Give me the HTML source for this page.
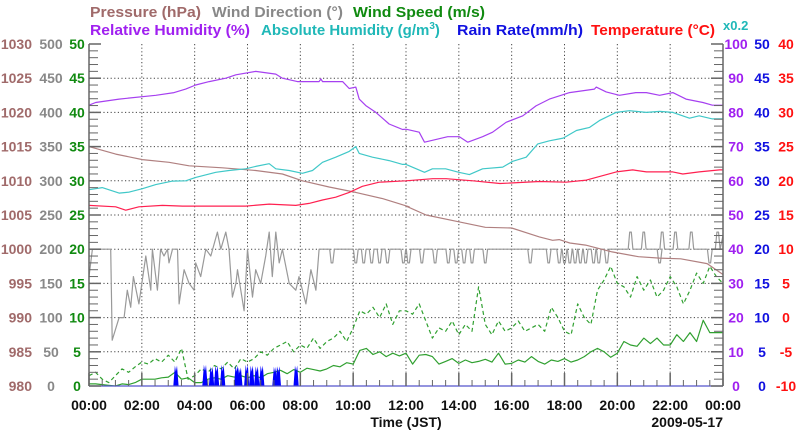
<!DOCTYPE html>
<html><head><meta charset="utf-8"><style>
html,body{margin:0;padding:0;background:#fff;}
svg{display:block;font-family:"Liberation Sans",sans-serif;font-weight:bold;}
</style></head><body>
<svg id="chart" width="800" height="434" viewBox="0 0 800 434" xmlns="http://www.w3.org/2000/svg">
<g font-size="15">
<text x="90" y="17" fill="#a06a6a" textLength="111" lengthAdjust="spacingAndGlyphs">Pressure (hPa)</text>
<text x="212" y="17" fill="#888888" textLength="131" lengthAdjust="spacingAndGlyphs">Wind Direction (°)</text>
<text x="353" y="17" fill="#108a10" textLength="132" lengthAdjust="spacingAndGlyphs">Wind Speed (m/s)</text>
<text x="90" y="35" fill="#a020f0" textLength="160" lengthAdjust="spacingAndGlyphs">Relative Humidity (%)</text>
<text x="261" y="35" fill="#20b8b8">Absolute Humidity (g/m<tspan font-size="10" dy="-6">3</tspan><tspan dy="6">)</tspan></text>
<text x="457" y="35" fill="#1010e0" textLength="126" lengthAdjust="spacingAndGlyphs">Rain Rate(mm/h)</text>
<text x="591" y="35" fill="#ff1010" textLength="124" lengthAdjust="spacingAndGlyphs">Temperature (°C)</text>
<text x="723" y="30" fill="#20b8b8" font-size="13">x0.2</text>
</g>
<g id="grid"></g>
<g id="series"></g>
<g id="axes"></g>
<g id="labels" font-size="14"></g>
</svg>
<script>
const pressTimes=[0,1.01,2.02,3.03,3.79,5.05,6.31,7.32,8.08,9.09,10.1,11.11,12.12,12.0,12.76,14.0,15.0,16.0,16.8,17.05,17.55,17.8,18.2,18.8,19.8,20.8,21.6,22.4,23.4,24];
const pressValues=[1015,1013.9,1013.1,1012.7,1012.2,1011.9,1011.5,1011.0,1010.0,1009.1,1008.3,1007.4,1006.2,1006.3,1005.0,1004.0,1003.2,1003.1,1002.1,1001.8,1001.3,1001.4,1000.9,1000.6,999.6,998.9,998.7,998.6,997.9,996.3];
const rhTimes=[0,0.25,1.14,2.53,3.22,3.66,4.04,4.55,5.18,5.56,6.31,7.07,7.32,7.89,8.71,8.78,8.84,9.6,9.85,10.1,10.23,10.48,10.86,11.36,11.87,12.0,12.5,12.7,13.58,14.02,14.34,14.9,15.28,15.79,16.42,16.92,17.43,17.87,18.19,19.13,19.2,19.58,20.08,20.7,21.1,21.6,22.1,22.6,23.24,23.6,24];
const rhValues=[82.1,82.9,83.9,85,85.8,86.8,88,89,90,91,92,91.2,90,89,89,89.8,89,89,87,87.4,83.9,82,80,76.6,75,75.1,74.2,71.3,72.9,72.9,71.3,72.9,74.2,77.1,79,81.9,83.9,85,85.8,86.8,87.4,86,85,85.8,85.8,85,85.8,83.9,82.9,82.1,82.1];
const ahTimes=[0,0.5,1.14,1.52,2.02,2.53,3.16,3.66,4.04,4.8,5.3,5.93,6.31,6.82,7.07,7.58,8.08,8.46,8.84,9.34,9.85,10.1,10.23,10.73,11.36,11.87,12.0,12.7,13.0,13.5,14.0,14.4,14.9,15.66,16.04,16.55,16.99,17.43,17.95,18.45,18.95,19.32,19.95,20.46,21.1,21.6,22.1,22.73,23.1,23.6,24];
const ahValues=[11.48,11.6,11.28,11.34,11.54,11.78,11.98,12.0,12.2,12.5,12.6,12.7,12.84,13.0,12.7,12.6,12.44,12.6,13.08,13.38,13.72,14.0,13.6,13.38,13.18,12.96,12.96,12.5,12.7,12.7,12.5,12.36,12.7,12.8,13.14,13.38,14.16,14.34,14.5,14.94,15.12,15.52,16.0,16.1,16.0,16.06,16.0,15.66,15.8,15.62,15.62];
const tempTimes=[0,1.01,1.39,1.89,2.78,3.54,5.93,6.82,7.83,8.33,8.84,9.34,9.85,10.35,10.98,12.0,13.01,13.52,14.53,15.56,17.05,18.06,18.83,19.96,20.58,21.1,22.1,22.48,23.1,23.87,24];
const tempValues=[16.4,16.2,15.7,16.2,16.4,16.3,16.3,16.6,16.4,16.7,17.2,17.6,18.3,19.2,19.8,20.0,20.3,20.3,20.0,19.6,19.9,19.8,20.1,21.3,21.6,21.3,21.3,21.0,21.3,21.6,21.6];
const windDirTimes=[0,0.13,0.3,0.82,0.88,1.14,1.33,1.45,1.58,1.68,1.89,2.15,2.34,2.4,2.59,2.71,2.84,2.97,3.03,3.16,3.35,3.41,3.6,3.79,3.98,4.04,4.23,4.42,4.61,4.86,4.99,5.18,5.3,5.43,5.56,5.62,5.87,6.0,6.19,6.31,6.5,6.69,6.82,6.94,7.07,7.2,7.32,7.58,7.83,7.95,8.21,8.4,8.59,8.71];
const windDirValues=[160,200,200,200,67,100,100,140,115,160,120,190,140,200,140,200,190,200,180,200,200,120,170,150,140,180,160,200,190,225,200,225,200,130,150,170,110,200,130,170,150,190,225,160,225,180,200,150,140,160,120,170,140,200];
const windDirBase=200;
const windDirDipValue=180;
const windDirPeakValue=225;
const windDirDipTimes=[9.2,10.1,10.4,10.7,11.0,11.3,11.9,12.1,12.6,13.1,13.6,13.9,14.2,14.5,15.0,16.7,17.4,17.8,18.0,18.2,18.4,18.6,18.8,19.1,19.3,19.6,21.6,23.5];
const windDirPeakTimes=[20.5,21.0,21.7,22.2,22.8,23.8];
const windMean=[0.3,0.3,0.2,0.1, 0.0,0.3,0.2,0.5, 1.0,1.0,1.0,1.2, 1.3,2.0,1.0,1.2, 0.5,0.5,1.0,1.2, 1.0,1.5,1.3,1.5, 1.2,1.5,1.2,1.8, 2.0,2.3,1.8,2.4, 2.0,2.6,2.4,2.2, 2.5,3.0,2.8,3.4, 3.2,5.2,5.5,4.6, 5.0,4.3,4.8,4.4, 4.8,3.2,4.5,4.6, 4.3,3.2,3.6,4.0, 3.3,3.8,3.4,3.6, 3.9,3.5,4.8,3.2, 3.3,3.8,3.5,4.3, 3.6,3.2,3.8,3.6, 4.0,3.5,3.8,4.3, 5.0,5.5,5.0,4.2, 4.8,6.5,6.0,5.8, 7.0,6.2,7.0,6.0, 6.0,7.5,6.5,7.8, 6.5,9.6,7.8,7.8, 7.8];
const windGust=[1.5,2.0,1.0,0.5, 1.5,2.5,2.0,2.8, 3.5,3.2,4.0,3.5, 4.5,3.5,5.5,1.0, 1.5,2.5,2.0,3.0, 2.5,3.5,2.5,4.0, 3.5,4.0,5.0,4.5, 5.5,6.0,6.5,5.0, 6.0,5.5,7.0,5.5, 6.5,7.0,8.0,6.5, 8.5,11.0,10.5,11.5, 10.0,12.0,9.0,11.0, 11.0,10.5,12.0,9.5, 7.0,8.5,8.0,9.5, 7.5,9.0,8.0,14.5, 9.0,7.5,9.5,8.0, 8.5,9.5,8.0,8.5, 9.0,8.0,11.5,10.0, 8.0,7.5,12.0,10.0, 9.0,14.0,15.5,17.5, 15.0,14.5,13.0,16.0, 14.0,15.5,13.0,14.0, 16.0,14.5,12.0,14.0, 16.5,15.0,17.5,16.0, 15.0];
const windStepHours=0.25;
const rainTimes=[3.29,4.39,4.64,4.83,5.06,5.59,5.71,5.97,6.16,6.35,6.54,7.04,7.17,7.84];
const rainValues=[3.0,3.1,2.8,3.0,3.1,3.0,2.7,3.1,3.0,2.9,3.0,2.8,2.9,3.0];
const timeTicks=["00:00","02:00","04:00","06:00","08:00","10:00","12:00","14:00","16:00","18:00","20:00","22:00","00:00"];
const pressTicks=[980,985,990,995,1000,1005,1010,1015,1020,1025,1030];
const dirTicks=[0,50,100,150,200,250,300,350,400,450,500];
const speedTicks=[0,5,10,15,20,25,30,35,40,45,50];
const rhTicks=[0,10,20,30,40,50,60,70,80,90,100];
const rainTicks=[0,5,10,15,20,25,30,35,40,45,50];
const tempTicks=[-10,-5,0,5,10,15,20,25,30,35,40];

const X0=89,X1=723,Y0=386,Y1=44,H=Y0-Y1;
const NS="http://www.w3.org/2000/svg";
const xS=h=>X0+h*(X1-X0)/24;
const yP=p=>Y0-(p-980)/50*H;
const yD=d=>Y0-d/500*H;
const yW=s=>Y0-s/50*H;
const yRH=r=>Y0-r/100*H;
const yAH=a=>Y0-(a/0.2)/100*H;
const yR=r=>Y0-r/50*H;
const yT=t=>Y0-(t+10)/50*H;
function mk(tag,parent,attrs){const e=document.createElementNS(NS,tag);for(const k in attrs)e.setAttribute(k,attrs[k]);parent.appendChild(e);return e;}
const grid=document.getElementById('grid'),series=document.getElementById('series'),axes=document.getElementById('axes'),labels=document.getElementById('labels');
for(let k=1;k<10;k++){const y=Y0-k*H/10;const l=mk('line',grid,{x1:X0,x2:X1,y1:y,y2:y,stroke:'#444',"stroke-width":1,"stroke-dasharray":"1.2,2.4"});

}
for(let h=2;h<24;h+=2){const x=xS(h);const l=mk('line',grid,{x1:x,x2:x,y1:Y1,y2:Y0,stroke:'#444',"stroke-width":1,"stroke-dasharray":"1.2,2.4"});

}
function poly(ts,vs,yf,color,name,dash){const pts=ts.map((t,i)=>xS(t).toFixed(1)+','+yf(vs[i]).toFixed(1)).join(' ');
const a={points:pts,fill:'none',stroke:color,"stroke-width":1.2,"stroke-linejoin":"round"};if(dash)a["stroke-dasharray"]=dash;
const p=mk('polyline',series,a);

}
// wind direction full series
const wdT=windDirTimes.slice(),wdV=windDirValues.slice();
const events=[];windDirDipTimes.forEach(t=>events.push([t,windDirDipValue]));windDirPeakTimes.forEach(t=>events.push([t,windDirPeakValue]));
events.sort((a,b)=>a[0]-b[0]);
events.forEach(e=>{wdT.push(e[0]-0.09,e[0]-0.03,e[0]+0.03,e[0]+0.09);wdV.push(windDirBase,e[1],e[1],windDirBase);});
wdT.push(24);wdV.push(220);
poly(wdT,wdV,yD,'#999','wind-direction-line');
poly(pressTimes,pressValues,yP,'#b08080','pressure-line');
poly(ahTimes,ahValues,yAH,'#40c8c8','absolute-humidity-line');
poly(rhTimes,rhValues,yRH,'#a640f0','relative-humidity-line');
poly(tempTimes,tempValues,yT,'#ff2050','temperature-line');
const wt=windMean.map((v,i)=>i*windStepHours);
poly(wt,windGust,yW,'#30a030','wind-gust-line','4,3');
poly(wt,windMean,yW,'#30a030','wind-speed-line');
rainTimes.forEach((t,i)=>{const v=rainValues[i];
const pts=[[t-0.1,0],[t-0.04,v],[t,v*0.7],[t+0.04,v],[t+0.1,0]].map(p=>xS(p[0]).toFixed(1)+','+yR(p[1]).toFixed(1)).join(' ');
const p=mk('polygon',series,{points:pts,fill:'#0000ff'});

});
// axes
[[X0,'left-axis'],[X1,'right-axis']].forEach(([x,n])=>{const l=mk('line',axes,{x1:x,x2:x,y1:Y1,y2:Y0,stroke:'#666',"stroke-width":1.5});

});
const bl=mk('line',axes,{x1:X0,x2:X1,y1:Y0,y2:Y0,stroke:'#5555cc',"stroke-width":1.2});


for(let k=0;k<=50;k++){const y=Y0-k*H/50,len=k%5===0?12:9;
const a=mk('line',axes,{x1:X0,x2:X0+len,y1:y,y2:y,stroke:'#666',"stroke-width":k%5===0?1.5:1});


const b=mk('line',axes,{x1:X1-len,x2:X1,y1:y,y2:y,stroke:'#666',"stroke-width":k%5===0?1.5:1});

}
for(let k=0;k<=48;k++){const x=xS(k*0.5),len=k%4===0?13:6;
const a=mk('line',axes,{x1:x,x2:x,y1:Y0-len,y2:Y0,stroke:'#666',"stroke-width":k%4===0?1.5:1});

}
function lab(x,y,txt,color,anchor,name){const t=mk('text',labels,{x:x,y:y,fill:color,"text-anchor":anchor});t.textContent=txt;

}
for(let k=0;k<=10;k++){const y=Y0-k*H/10+5;
lab(32,y,pressTicks[k],'#a06a6a','end','pressure-tick-label');
lab(51,y,dirTicks[k],'#888','middle','wind-direction-tick-label');
lab(77,y,speedTicks[k],'#108a10','middle','wind-speed-tick-label');
lab(736,y,rhTicks[k],'#a020f0','middle','humidity-tick-label');
lab(762,y,rainTicks[k],'#1010e0','middle','rain-tick-label');
lab(786,y,tempTicks[k],'#ff1010','middle','temperature-tick-label');}
timeTicks.forEach((s,i)=>lab(xS(i*2),410,s,'#111','middle','time-tick-label'));
lab(406,427,'Time (JST)','#111','middle','x-axis-title');
lab(723,427,'2009-05-17','#111','end','date-label');
</script>
</body></html>
